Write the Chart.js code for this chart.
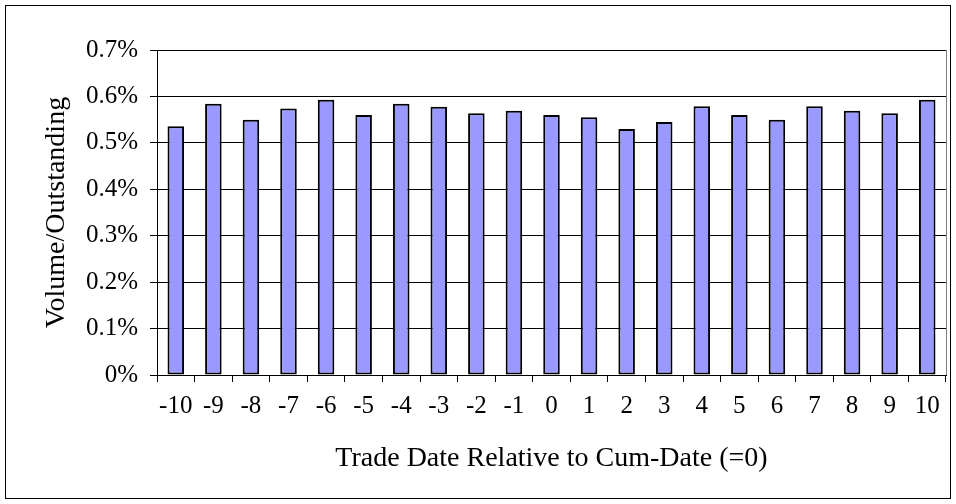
<!DOCTYPE html>
<html>
<head>
<meta charset="utf-8">
<script src="https://cdn.jsdelivr.net/npm/chart.js@4"></script>
<style>
  body { margin: 0; background: #fff; }
</style>
</head>
<body>
<canvas id="myChart" width="956" height="504"></canvas>
<script>
const ctx = document.getElementById("myChart");

// trade dates relative to cum-date
const days = [-10, -9, -8, -7, -6, -5, -4, -3, -2, -1, 0, 1, 2, 3, 4, 5, 6, 7, 8, 9, 10];
// volume / outstanding, in percent
const volume = [0.536, 0.584, 0.550, 0.574, 0.593, 0.560, 0.584, 0.578, 0.564, 0.569, 0.560,
                0.555, 0.530, 0.545, 0.579, 0.560, 0.550, 0.579, 0.569, 0.564, 0.593];
const yTicks = [0, 0.1, 0.2, 0.3, 0.4, 0.5, 0.6, 0.7];

const serif = "'Liberation Serif', 'Times New Roman', serif";

// outer frame + right edge of plot area
const framePlugin = {
    id: "frame",
    beforeDraw(chart) {
        const c = chart.ctx;
        c.save();
        c.fillStyle = "#fff";
        c.fillRect(0, 0, chart.width, chart.height);
        c.restore();
    },
    afterDraw(chart) {
        const c = chart.ctx;
        const a = chart.chartArea;
        c.save();
        c.strokeStyle = "#808080";
        c.lineWidth = 1;
        c.beginPath();
        c.moveTo(a.right + 0.5, a.top);
        c.lineTo(a.right + 0.5, a.bottom);
        c.stroke();
        c.strokeStyle = "#000";
        c.strokeRect(5.5, 5.5, chart.width - 11, chart.height - 11);
        c.restore();
    },
};

const chart = new Chart(ctx, {
    type: "bar",
    data: {
        labels: days,
        datasets: [
            {
                label: "Volume/Outstanding",
                data: volume,
                backgroundColor: "#9999ff",
                borderColor: "#000",
                borderWidth: 2,
                borderSkipped: false,
                barPercentage: 0.44,
                categoryPercentage: 1,
            },
        ],
    },
    options: {
        responsive: false,
        animation: false,
        layout: {
            padding: { top: 50, right: 10, bottom: 0, left: 0 },
        },
        scales: {
            x: {
                grid: {
                    offset: true,
                    drawOnChartArea: false,
                    color: "#000",
                    tickLength: 7,
                },
                border: { color: "#000" },
                ticks: {
                    color: "#000",
                    padding: 9,
                    maxRotation: 0,
                    autoSkip: false,
                    font: { family: serif, size: 25 },
                },
                title: {
                    display: true,
                    text: "Trade Date Relative to Cum-Date (=0)",
                    color: "#000",
                    font: { family: serif, size: 28 },
                    padding: { top: 0, bottom: 29 },
                },
                afterFit(scale) {
                    scale.height = 129;
                },
            },
            y: {
                min: 0,
                max: 0.7,
                afterBuildTicks(scale) {
                    scale.ticks = yTicks.map((v) => ({ value: v }));
                },
                grid: {
                    color: "#000",
                    tickLength: 7,
                },
                border: { color: "#000" },
                ticks: {
                    color: "#000",
                    padding: 12,
                    font: { family: serif, size: 25 },
                    callback: (v) => (v === 0 ? "0%" : v.toFixed(1) + "%"),
                },
                title: {
                    display: true,
                    text: "Volume/Outstanding",
                    color: "#000",
                    font: { family: serif, size: 28 },
                    padding: { top: 40, bottom: 0 },
                },
                afterFit(scale) {
                    scale.width = 157;
                },
            },
        },
        plugins: {
            legend: { display: false },
            tooltip: { enabled: false },
        },
    },
    plugins: [framePlugin],
});
</script>
</body>
</html>
